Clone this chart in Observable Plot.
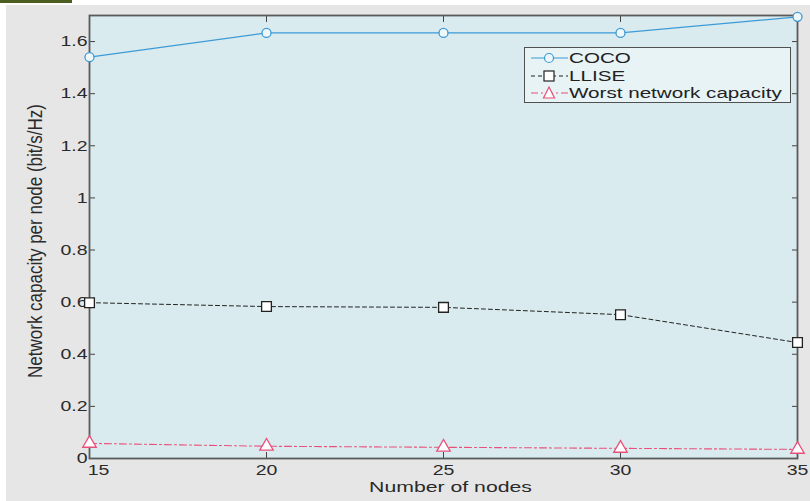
<!DOCTYPE html>
<html>
<head>
<meta charset="utf-8">
<script src="https://cdn.jsdelivr.net/npm/d3@7"></script>
<script src="https://cdn.jsdelivr.net/npm/@observablehq/plot@0.6"></script>
<style>
  html, body { margin: 0; padding: 0; background: #ffffff; }
  #wrap { position: relative; width: 810px; height: 501px; overflow: hidden; font-family: "Liberation Sans", Arial, sans-serif; }
  #gray { position: absolute; left: 6px; top: 5px; right: 0; bottom: 0; background: #e6e6e6; }
  #bar { position: absolute; left: 0; top: 0; width: 72px; height: 3px; background: #4b5d1f; }
  #chart { position: absolute; left: 0; top: 0; }
  #legend { position: absolute; left: 524px; top: 47px; width: 265px; height: 54px; border: 1px solid #505050; background: #e8f3f5; }
  .row { position: absolute; left: 0; height: 16px; display: flex; align-items: center; }
  .row svg { margin-left: 6px; }
  .row span { display: inline-block; font-size: 15.5px; color: #222; margin-left: 1px; line-height: 16px; height: 16px; white-space: nowrap; transform: scaleX(1.33); transform-origin: left center; }
</style>
</head>
<body>
<div id="wrap">
  <div id="gray"></div>
  <div id="bar"></div>
  <div id="chart"></div>
  <div id="legend"></div>
</div>
<script>
const nodes = [15, 20, 25, 30, 35];
const coco = [1.54, 1.633, 1.633, 1.633, 1.695];
const llise = [0.598, 0.583, 0.58, 0.552, 0.445];
const worst = [0.058, 0.047, 0.043, 0.039, 0.035];
const seriesNames = ["COCO", "LLISE", "Worst network capacity"];
const yTicks = [0, 0.2, 0.4, 0.6, 0.8, 1, 1.2, 1.4, 1.6];
const xTicks = [15, 20, 25, 30, 35];
const xLabel = "Number of nodes";
const yLabel = "Network capacity per node (bit/s/Hz)";

const rows = (vals) => nodes.map((n, i) => ({n, v: vals[i]}));
const dCoco = rows(coco), dLlise = rows(llise), dWorst = rows(worst);

const blue = "#3d9ad6", pink = "#e8507a", black = "#222";
const plotBg = "#d9ebee";
const font = "Liberation Sans, Arial, sans-serif";

const chart = Plot.plot({
  width: 810, height: 501,
  marginLeft: 89, marginRight: 13, marginTop: 15, marginBottom: 43,
  style: {background: "transparent", fontFamily: font, fontSize: "15px", color: "#2a2a2a"},
  x: {domain: [15, 35]},
  y: {domain: [0, 1.7]},
  marks: [
    Plot.frame({fill: plotBg}),
    Plot.axisY({anchor: "left", ticks: yTicks, tickSize: -6, tickPadding: 8, label: null, tickFormat: d => String(d), stroke: "#444"}),
    Plot.axisY({anchor: "right", ticks: yTicks, tickSize: -6, label: null, tickFormat: () => "", stroke: "#444"}),
    Plot.axisX({anchor: "bottom", ticks: xTicks, tickSize: -6, tickPadding: 12, label: null, tickFormat: d => String(d), stroke: "#444"}),
    Plot.axisX({anchor: "top", ticks: xTicks, tickSize: -6, label: null, tickFormat: () => "", stroke: "#444"}),
    Plot.frame({stroke: "#5a5a5a", strokeWidth: 1.8}),
    Plot.line(dCoco, {x: "n", y: "v", stroke: blue, strokeWidth: 1.2}),
    Plot.line(dLlise, {x: "n", y: "v", stroke: black, strokeWidth: 1, strokeDasharray: "4,3"}),
    Plot.line(dWorst, {x: "n", y: "v", stroke: pink, strokeWidth: 1.1, strokeDasharray: "7,3,2,3"}),
    Plot.dot(dCoco, {x: "n", y: "v", r: 4.5, stroke: blue, fill: "#eef7fa", strokeWidth: 1.3}),
    Plot.dot(dLlise, {x: "n", y: "v", symbol: "square", r: 5.5, stroke: black, fill: "#ffffff", strokeWidth: 1.3}),
    Plot.dot(dWorst, {x: "n", y: "v", symbol: "triangle", r: 5, stroke: pink, fill: "#ffffff", strokeWidth: 1.3}),
    Plot.text([xLabel], {frameAnchor: "bottom", dy: 33, dx: 7, fontSize: 15.5, fill: "#2a2a2a"}),
    Plot.text([yLabel], {frameAnchor: "left", textAnchor: "middle", dx: -54, dy: 4, rotate: -90, fontSize: 17, fill: "#2a2a2a"})
  ]
});
document.getElementById("chart").appendChild(chart);

// widen text horizontally to match the reference's stretched type
d3.select(chart).selectAll("text").each(function() {
  const t = this.getAttribute("transform") || "";
  const isXLabel = this.textContent === xLabel;
  if (t.includes("rotate")) this.setAttribute("transform", t + " scale(1,1.2)");
  else this.setAttribute("transform", t + (isXLabel ? " scale(1.37,1)" : " scale(1.3,1)"));
});
// nudge the first x tick label right, clear of the "0" label (as in the reference)
d3.select(chart).selectAll('g[aria-label="x-axis tick label"] text').each(function(d, i) {
  if (i === 0) {
    const t = this.getAttribute("transform") || "";
    this.setAttribute("transform", "translate(9,0) " + t);
  }
});

// Legend
const legend = document.getElementById("legend");
const legendStyles = [
  {stroke: blue, dash: null, marker: "circle"},
  {stroke: black, dash: "4,3", marker: "square"},
  {stroke: pink, dash: "7,3,2,3", marker: "triangle"}
];
const tops = [2, 19.5, 37];
seriesNames.forEach((name, i) => {
  const st = legendStyles[i];
  const row = document.createElement("div");
  row.className = "row";
  row.style.top = tops[i] + "px";
  const svg = d3.create("svg").attr("width", 37).attr("height", 16);
  svg.append("line").attr("x1", 0).attr("x2", 37).attr("y1", 8).attr("y2", 8)
    .attr("stroke", st.stroke).attr("stroke-width", 1.1).attr("stroke-dasharray", st.dash);
  if (st.marker === "circle") {
    svg.append("circle").attr("cx", 18).attr("cy", 8).attr("r", 4.5).attr("fill", "#eef7fa").attr("stroke", st.stroke).attr("stroke-width", 1.2);
  } else if (st.marker === "square") {
    svg.append("rect").attr("x", 13).attr("y", 3).attr("width", 10).attr("height", 10).attr("fill", "#fff").attr("stroke", st.stroke).attr("stroke-width", 1.2);
  } else {
    svg.append("path").attr("d", "M18,2 L23.5,13 L12.5,13 Z").attr("fill", "#fff").attr("stroke", st.stroke).attr("stroke-width", 1.2);
  }
  row.appendChild(svg.node());
  const span = document.createElement("span");
  span.textContent = name;
  row.appendChild(span);
  legend.appendChild(row);
});
</script>
</body>
</html>
